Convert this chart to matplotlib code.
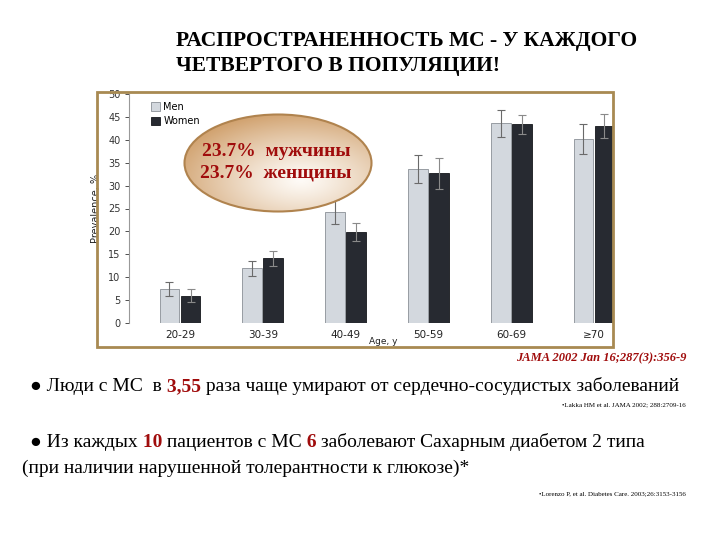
import numpy as np
import matplotlib.pyplot as plt
from matplotlib.patches import Ellipse, Rectangle

# data
ages = ['20-29', '30-39', '40-49', '50-59', '60-69', '≥70']
men = [7.5, 11.9, 24.2, 33.6, 43.6, 40.1]
women = [6.0, 14.1, 19.9, 32.7, 43.4, 43.0]
men_err = [1.5, 1.6, 2.6, 3.0, 2.9, 3.3]
women_err = [1.4, 1.7, 1.9, 3.4, 2.1, 2.7]
yticks = list(range(0, 55, 5))

SERIF = 'Liberation Serif'
RED = '#a00c0c'

fig = plt.figure(figsize=(7.2, 5.4), dpi=100)
fig.patch.set_facecolor('white')

# chart axes (pixel box 129..613 x, 94..323 y)
ax = fig.add_axes([129/720, 1-323/540, (613-129)/720, (323-94)/540])
x = np.arange(len(ages))
w = 0.24
off = 0.127
ax.bar(x-off, men, w, color='#d3d8de', edgecolor='#8a8f96', linewidth=0.6, label='Men')
ax.bar(x+off, women, w, color='#272a31', edgecolor='#15171b', linewidth=0.6, label='Women')
ax.errorbar(x-off, men, yerr=men_err, fmt='none', ecolor='#6a6a6a', elinewidth=0.8, capsize=3, capthick=0.8)
ax.errorbar(x+off, women, yerr=women_err, fmt='none', ecolor='#8a8a8a', elinewidth=0.8, capsize=3, capthick=0.8)
ax.set_xlim(-0.616, 5.23)
ax.set_ylim(0, 50)
ax.set_yticks(yticks)
ax.set_xticks(x)
ax.set_xticklabels(ages)
for s in ('top', 'right', 'bottom'):
    ax.spines[s].set_visible(False)
ax.spines['left'].set_color('#999999')
ax.spines['left'].set_linewidth(0.8)
ax.tick_params(axis='y', labelsize=7, colors='#333333', length=3, width=0.6, pad=3)
ax.tick_params(axis='x', labelsize=7.5, colors='#222222', length=0, pad=5)
ax.set_ylabel('Prevalence, %', fontsize=7, color='#222222', labelpad=5)
ax.legend(loc='upper left', bbox_to_anchor=(146/720, 1-97/540), bbox_transform=fig.transFigure,
          frameon=False, fontsize=7, handlelength=0.9, handleheight=0.9, handletextpad=0.4,
          labelspacing=0.45, borderpad=0)

# overlay in pixel coordinates
ov = fig.add_axes([0, 0, 1, 1])
ov.set_xlim(0, 720)
ov.set_ylim(540, 0)
ov.axis('off')

ov.add_patch(Rectangle((97, 92), 516, 255, fill=False, edgecolor='#a88a52', linewidth=2))
ov.text(383, 342, 'Age, y', fontsize=6.5, ha='center', va='center', color='#222222')

# ellipse with a soft gradient
ecx, ecy, ew, eh = 278, 163, 187, 97
yy, xx = np.mgrid[0:1:200j, 0:1:300j]
d = np.sqrt(((xx-0.62)/0.72)**2 + ((yy-0.68)/0.72)**2)
d = np.clip(d, 0, 1)
c0 = np.array([254, 251, 247]) / 255
c1 = np.array([208, 160, 108]) / 255
img = c0 + (c1 - c0) * d[..., None]**1.2
im = ov.imshow(img, extent=(ecx-ew/2, ecx+ew/2, ecy+eh/2, ecy-eh/2), zorder=3, aspect='auto')
ell = Ellipse((ecx, ecy), ew, eh, fill=False, edgecolor='#b0834e', linewidth=1.5, zorder=4)
ov.add_patch(ell)
im.set_clip_path(ell)
ov.text(276, 152, '23.7%  мужчины', fontsize=14, fontweight='bold', family=SERIF, color=RED,
        ha='center', va='center', zorder=5)
ov.text(276, 173, '23.7%  женщины', fontsize=14, fontweight='bold', family=SERIF, color=RED,
        ha='center', va='center', zorder=5)
ov.set_xlim(0, 720)
ov.set_ylim(540, 0)

# title
ov.text(176, 41, 'РАСПРОСТРАНЕННОСТЬ МС - У КАЖДОГО', fontsize=15.5, fontweight='bold',
        family=SERIF, color='black', ha='left', va='center')
ov.text(176, 66, 'ЧЕТВЕРТОГО В ПОПУЛЯЦИИ!', fontsize=15.5, fontweight='bold',
        family=SERIF, color='black', ha='left', va='center')

ov.text(686, 358, 'JAMA 2002 Jan 16;287(3):356-9', fontsize=9, fontweight='bold', style='italic',
        family=SERIF, color=RED, ha='right', va='center')

renderer = fig.canvas.get_renderer()


def line(x0, y0, parts, size=14):
    xp = x0
    for txt, col, bold in parts:
        t = ov.text(xp, y0, txt, fontsize=size, family=SERIF, color=col,
                    fontweight='bold' if bold else 'normal', ha='left', va='baseline')
        bb = t.get_window_extent(renderer)
        xp += bb.width


line(30, 391, [('● Люди с МС  в', 'black', False), (' 3,55', RED, True),
               (' раза чаще умирают от сердечно-сосудистых заболеваний', 'black', False)])
ov.text(686, 405, '•Lakka HM et al. JAMA 2002; 288:2709-16', fontsize=5, family=SERIF,
        color='black', ha='right', va='center')
line(30, 447, [('● Из каждых', 'black', False), (' 10', RED, True), (' пациентов с МС', 'black', False),
               (' 6', RED, True), (' заболевают Сахарным диабетом 2 типа', 'black', False)])
line(22, 473, [('(при наличии нарушенной толерантности к глюкозе)*', 'black', False)])
ov.text(686, 494, '•Lorenzo P, et al. Diabetes Care. 2003;26:3153-3156', fontsize=5, family=SERIF,
        color='black', ha='right', va='center')

fig.savefig('out.png', dpi=100)
